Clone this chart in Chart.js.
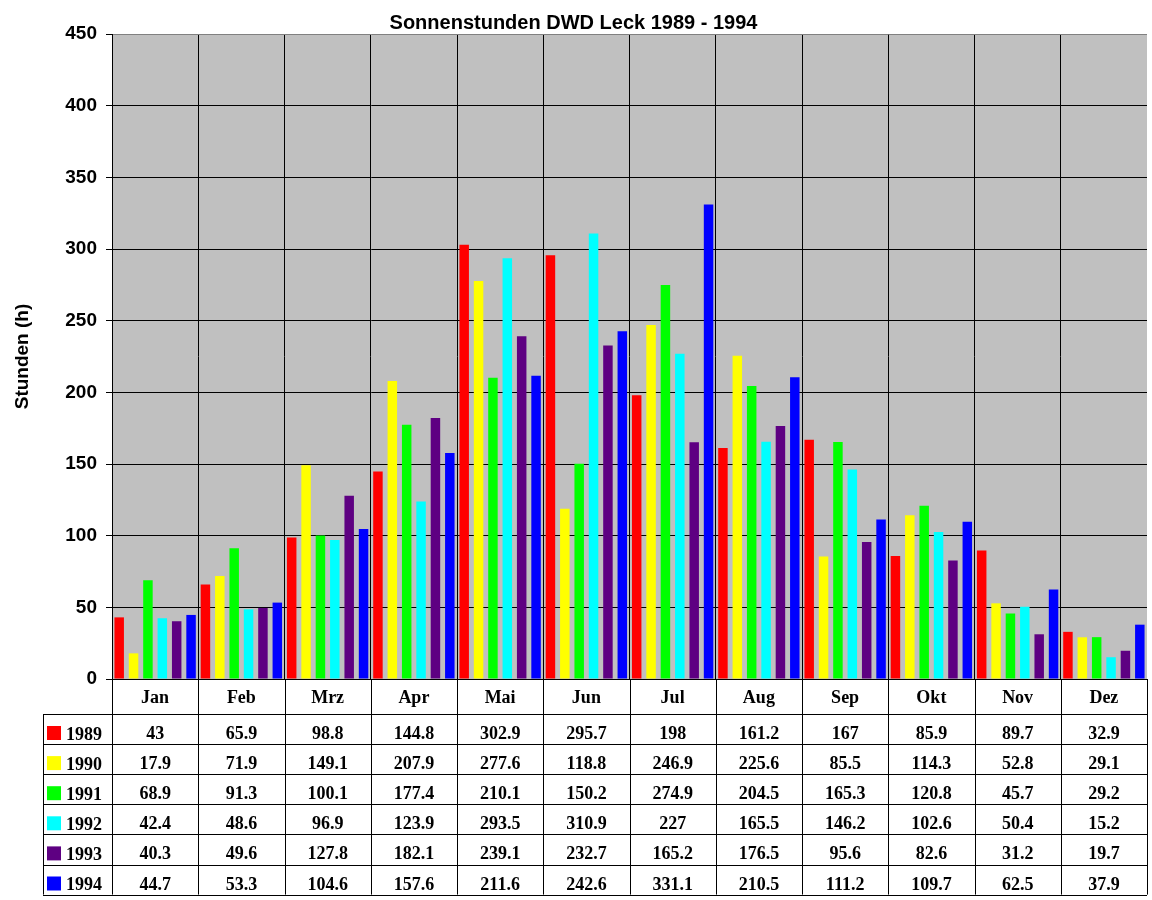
<!DOCTYPE html>
<html>
<head>
<meta charset="utf-8">
<script src="https://cdn.jsdelivr.net/npm/chart.js@4"></script>
<style>
  html, body { margin: 0; padding: 0; background: #ffffff; }
  #wrap { width: 1152px; height: 900px; }
</style>
</head>
<body>
<div id="wrap"><canvas id="c" width="1152" height="900"></canvas></div>
<script>
const months = ['Jan','Feb','Mrz','Apr','Mai','Jun','Jul','Aug','Sep','Okt','Nov','Dez'];
const years = ['1989','1990','1991','1992','1993','1994'];
const v1989 = [43, 65.9, 98.8, 144.8, 302.9, 295.7, 198, 161.2, 167, 85.9, 89.7, 32.9];
const v1990 = [17.9, 71.9, 149.1, 207.9, 277.6, 118.8, 246.9, 225.6, 85.5, 114.3, 52.8, 29.1];
const v1991 = [68.9, 91.3, 100.1, 177.4, 210.1, 150.2, 274.9, 204.5, 165.3, 120.8, 45.7, 29.2];
const v1992 = [42.4, 48.6, 96.9, 123.9, 293.5, 310.9, 227, 165.5, 146.2, 102.6, 50.4, 15.2];
const v1993 = [40.3, 49.6, 127.8, 182.1, 239.1, 232.7, 165.2, 176.5, 95.6, 82.6, 31.2, 19.7];
const v1994 = [44.7, 53.3, 104.6, 157.6, 211.6, 242.6, 331.1, 210.5, 111.2, 109.7, 62.5, 37.9];
const yTicks = [0, 50, 100, 150, 200, 250, 300, 350, 400, 450];

const seriesValues = [v1989, v1990, v1991, v1992, v1993, v1994];
const colors = ['#FF0000', '#FFFF00', '#00FF00', '#00FFFF', '#5E0082', '#0000FF'];

const bgPlugin = {
  id: 'plotBg',
  beforeDraw(chart) {
    const a = chart.chartArea, ctx = chart.ctx;
    ctx.save();
    ctx.fillStyle = '#C0C0C0';
    ctx.fillRect(a.left, a.top, a.right - a.left, a.bottom - a.top);
    ctx.restore();
  }
};

const tablePlugin = {
  id: 'dataTable',
  afterDraw(chart) {
    const ctx = chart.ctx;
    const xs = chart.scales.x;
    const a = chart.chartArea;
    const left = a.left, right = a.right;
    const catW = (right - left) / months.length;
    const monthTop = a.bottom;
    const monthH = 35;
    const rowH = 30.1;
    const tableLeft = 43;
    const rowsTop = monthTop + monthH;
    const tableBottom = rowsTop + rowH * years.length;
    ctx.save();
    ctx.strokeStyle = '#000000';
    ctx.lineWidth = 1;
    ctx.beginPath();
    for (let r = 0; r <= years.length; r++) {
      const y = Math.round(rowsTop + r * rowH) + 0.5;
      ctx.moveTo(tableLeft, y); ctx.lineTo(right, y);
    }
    for (let i = 0; i <= months.length; i++) {
      const x = Math.round(left + i * catW) + 0.5;
      ctx.moveTo(x, monthTop); ctx.lineTo(x, tableBottom);
    }
    ctx.moveTo(tableLeft + 0.5, rowsTop); ctx.lineTo(tableLeft + 0.5, tableBottom);
    ctx.stroke();

    ctx.fillStyle = '#000000';
    ctx.font = 'bold 18px "Liberation Serif", "Times New Roman", serif';
    ctx.textAlign = 'center';
    ctx.textBaseline = 'alphabetic';
    months.forEach((m, i) => {
      ctx.fillText(m, xs.getPixelForValue(i), monthTop + 24);
    });
    years.forEach((yr, r) => {
      const top = rowsTop + r * rowH;
      ctx.fillStyle = colors[r];
      ctx.fillRect(47, top + 12, 14, 14);
      ctx.fillStyle = '#000000';
      ctx.textAlign = 'left';
      ctx.fillText(yr, 66, top + 25.5);
      ctx.textAlign = 'center';
      seriesValues[r].forEach((v, i) => {
        ctx.fillText(String(v), xs.getPixelForValue(i), top + 25);
      });
    });
    ctx.restore();
  }
};

new Chart(document.getElementById('c'), {
  type: 'bar',
  data: {
    labels: months,
    datasets: years.map((yr, i) => ({
      label: yr,
      data: seriesValues[i],
      backgroundColor: colors[i],
      borderWidth: 0,
      categoryPercentage: 1.0,
      barPercentage: 0.66
    }))
  },
  options: {
    responsive: false,
    devicePixelRatio: 1,
    animation: false,
    layout: { padding: { left: 0, right: 5, top: 0, bottom: 0 } },
    plugins: {
      legend: { display: false },
      tooltip: { enabled: false },
      title: {
        display: true,
        text: 'Sonnenstunden DWD Leck 1989 - 1994',
        color: '#000000',
        font: { family: 'Arial, "Liberation Sans", sans-serif', size: 20, weight: 'bold', lineHeight: 1.1 },
        padding: { top: 12, bottom: 0 }
      }
    },
    scales: {
      x: {
        afterFit(s) { s.height = 221; },
        ticks: { display: false },
        grid: {
          display: true,
          offset: true,
          drawTicks: false,
          color: (ctx) => (ctx.type === 'tick' ? '#000000' : 'rgba(0,0,0,0)'),
          lineWidth: 1
        },
        border: { display: true, color: '#000000', width: 1 }
      },
      y: {
        min: 0,
        max: 450,
        afterFit(s) { s.width = 112; },
        afterBuildTicks(s) { s.ticks = yTicks.map(v => ({ value: v })); },
        ticks: {
          color: '#000000',
          padding: 9,
          font: { family: 'Arial, "Liberation Sans", sans-serif', size: 19, weight: 'bold' }
        },
        grid: {
          color: (ctx) => (ctx.tick && ctx.tick.value === 450 ? '#808080' : '#000000'),
          tickColor: '#000000',
          tickLength: 6,
          lineWidth: 1
        },
        border: { display: true, color: '#000000', width: 1 },
        title: {
          display: true,
          text: 'Stunden (h)',
          color: '#000000',
          font: { family: 'Arial, "Liberation Sans", sans-serif', size: 19, weight: 'bold' },
          padding: { top: 11, bottom: 4 }
        }
      }
    }
  },
  plugins: [bgPlugin, tablePlugin]
});
</script>
</body>
</html>
